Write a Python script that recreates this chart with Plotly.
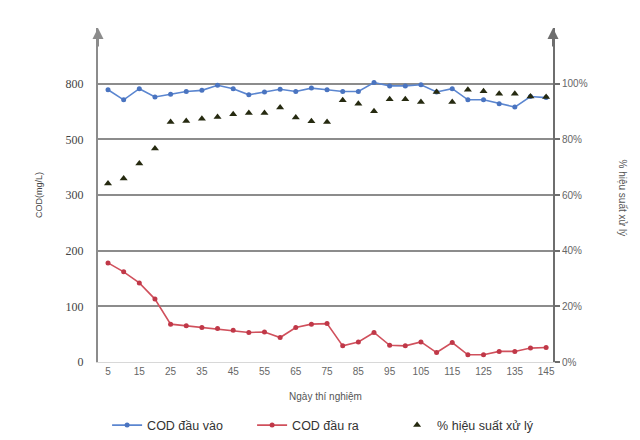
import plotly.graph_objects as go

days = [5, 10, 15, 20, 25, 30, 35, 40, 45, 50, 55, 60, 65, 70, 75,
        80, 85, 90, 95, 100, 105, 110, 115, 120, 125, 130, 135, 140, 145]
cod_in = [489, 471, 491, 476, 481, 486, 488, 497, 491, 480, 485, 490, 486, 492, 489,
          486, 486, 502, 496, 496, 498, 485, 491, 471, 471, 464, 458, 477, 475]
cod_out = [178, 162, 142, 113, 68, 65, 62, 60, 57, 53, 54, 44, 62, 68, 69,
           29, 36, 53, 30, 29, 36, 17, 35, 13, 13, 19, 19, 25, 26]
efficiency = [0.641, 0.659, 0.713, 0.767, 0.862, 0.866, 0.874, 0.880, 0.890, 0.895, 0.895, 0.914, 0.878, 0.865, 0.862,
              0.940, 0.928, 0.901, 0.944, 0.944, 0.934, 0.970, 0.934, 0.978, 0.973, 0.964, 0.964, 0.954, 0.952]

x_tickvals = [5, 15, 25, 35, 45, 55, 65, 75, 85, 95, 105, 115, 125, 135, 145]
x_ticktext = ["5", "15", "25", "35", "45", "55", "65", "75", "85", "95", "105", "115", "125", "135", "145"]
y_tickvals = [0, 100, 200, 300, 400, 500]
y_ticktext = ["0", "100", "200", "300", "500", "800"]
y2_tickvals = [0, 0.2, 0.4, 0.6, 0.8, 1.0]
y2_ticktext = ["0%", "20%", "40%", "60%", "80%", "100%"]

fig = go.Figure()
fig.add_trace(go.Scatter(x=days, y=cod_in, mode="lines+markers", name="COD đầu vào",
                         line=dict(color="#5B86D0", width=1.6),
                         marker=dict(symbol="circle", size=5, color="#4A74C0")))
fig.add_trace(go.Scatter(x=days, y=cod_out, mode="lines+markers", name="COD đầu ra",
                         line=dict(color="#D0505C", width=1.6),
                         marker=dict(symbol="circle", size=5, color="#C03848")))
fig.add_trace(go.Scatter(x=days, y=efficiency, mode="markers", name="% hiệu suất xử lý",
                         yaxis="y2",
                         marker=dict(symbol="triangle-up", size=7, color="#262A10",
                                     line=dict(width=0))))

fig.update_layout(
    width=640, height=440,
    margin=dict(l=98, r=87, t=28, b=78, autoexpand=False),
    paper_bgcolor="white", plot_bgcolor="white",
    showlegend=True,
    legend=dict(orientation="h", x=0.02, xanchor="left", y=-0.19, yanchor="middle",
                font=dict(family="Liberation Sans, Arial, sans-serif", size=12.5, color="#333333"),
                itemwidth=30, entrywidth=100, tracegroupgap=0),
    xaxis=dict(range=[1.8, 147.2], tickmode="array", tickvals=x_tickvals, ticktext=x_ticktext,
               showgrid=False, zeroline=False, showline=True, linecolor="#D8D8D8", linewidth=1,
               ticks="", tickfont=dict(family="Liberation Sans, Arial, sans-serif", size=10, color="#666666"),
               title=dict(text="Ngày thí nghiệm", standoff=16,
                          font=dict(family="Liberation Sans, Arial, sans-serif", size=10, color="#555555"))),
    yaxis=dict(range=[0, 600], tickmode="array", tickvals=y_tickvals, ticktext=y_ticktext,
               showgrid=True, gridcolor="#8C8C8C", gridwidth=2, zeroline=False,
               showline=True, linecolor="#8C8C8C", linewidth=2, ticks="",
               tickfont=dict(family="Liberation Serif, Times New Roman, serif", size=12, color="#444444"),
               ticklabelstandoff=10),
    yaxis2=dict(range=[0, 1.2], overlaying="y", side="right", tickmode="array",
                tickvals=y2_tickvals, ticktext=y2_ticktext, showgrid=False, zeroline=False,
                showline=True, linecolor="#6E6E6E", linewidth=2, ticks="outside", ticklen=5,
                tickcolor="#6E6E6E", tickwidth=2,
                tickfont=dict(family="Liberation Sans, Arial, sans-serif", size=10, color="#666666")),
    annotations=[
        dict(text="COD(mg/L)", xref="paper", yref="paper", x=-0.145, y=0.5, showarrow=False,
             textangle=-90, font=dict(family="Liberation Sans, Arial, sans-serif", size=9, color="#444444")),
        dict(text="% hiệu suất xử lý", xref="paper", yref="paper", x=1.17, y=0.49, showarrow=False,
             textangle=90, font=dict(family="Liberation Sans, Arial, sans-serif", size=10, color="#555555")),
        dict(text="", xref="paper", yref="paper", x=0, y=1.0, ax=0, ay=20, showarrow=True,
             arrowhead=2, arrowsize=1.1, arrowwidth=2, arrowcolor="#8C8C8C"),
        dict(text="", xref="paper", yref="paper", x=1, y=1.0, ax=0, ay=20, showarrow=True,
             arrowhead=2, arrowsize=1.1, arrowwidth=2, arrowcolor="#6E6E6E"),
    ],
)

fig.write_html("out.html", config={"displayModeBar": False},
               post_script="document.body.style.margin='0';document.body.style.padding='0';")
